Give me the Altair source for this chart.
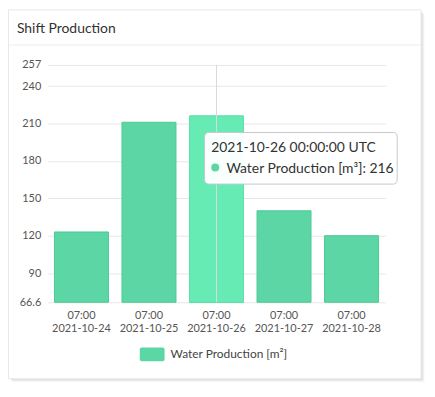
import altair as alt
import pandas as pd

# ---- data ----
dates = ["2021-10-24", "2021-10-25", "2021-10-26", "2021-10-27", "2021-10-28"]
values = [123, 211, 216, 140, 120]
hour_label = "07:00"
series_name = "Water Production [m²]"
tooltip_series = "Water Production [m³]"
hover_date = "2021-10-26"
hover_stamp = "2021-10-26 00:00:00 UTC"
y_ticks = [66.6, 90, 120, 150, 180, 210, 240, 257]
y_domain = [66.6, 257]
title_text = "Shift Production"

df = pd.DataFrame({"date": dates, "value": values, "series": [series_name] * len(dates),
                   "hour": [hour_label] * len(dates)})

W, H = 340, 239
FONT = "Lato"
BAR = "#5cd6a5"
BAR_HI = "#66ebb5"
one = alt.Data(values=[{}])

x = alt.X(
    "date:O", title=None, sort=None,
    scale=alt.Scale(paddingInner=0.2, paddingOuter=0.1),
    axis=alt.Axis(labels=False, ticks=False, domain=False, grid=False),
)
y = alt.Y(
    "value:Q", title=None,
    scale=alt.Scale(domain=y_domain, nice=False, zero=False),
    axis=alt.Axis(values=y_ticks, format=".1~f", ticks=False, domain=False, gridColor="#e6e6e6",
                  labelFont=FONT, labelFontSize=11, labelColor="#555", labelPadding=7),
)
y_base = alt.datum(y_domain[0])

# card frame (border + soft shadow), title and separator
card = alt.Chart(one).mark_rect(fillOpacity=0, stroke="#e8e8e8", strokeWidth=1).encode(
    x=alt.value(-39.5), x2=alt.value(376), y=alt.value(-55.5), y2=alt.value(316))
shadows = []
for i, op in enumerate([0.28, 0.16, 0.07]):
    shadows.append(alt.Chart(one).mark_rule(color="#888", opacity=op).encode(
        x=alt.value(377 + i), y=alt.value(-53 + i), y2=alt.value(317 + i)))
    shadows.append(alt.Chart(one).mark_rule(color="#888", opacity=op).encode(
        y=alt.value(317 + i), x=alt.value(-37 + i), x2=alt.value(377 + i)))
sep = alt.Chart(one).mark_rule(color="#ececec").encode(
    x=alt.value(-39.5), x2=alt.value(376), y=alt.value(-20))
title = alt.Chart(one).mark_text(text=title_text, font=FONT, fontSize=14, color="#333",
                                 align="left", baseline="alphabetic").encode(
    x=alt.value(-31), y=alt.value(-32.3))

bars = alt.Chart(df).mark_bar(stroke="#50c998", strokeWidth=1).encode(
    x=x, y=y, y2=y_base,
    color=alt.Color("series:N", scale=alt.Scale(domain=[series_name], range=[BAR]),
                    legend=alt.Legend(
                        title=None, orient="none", legendX=92.7, legendY=279, padding=0,
                        symbolType="M-0.84,-0.56 L0.84,-0.56 A0.16,0.16 0 0 1 1,-0.4 L1,0.4 A0.16,0.16 0 0 1 0.84,0.56 L-0.84,0.56 A0.16,0.16 0 0 1 -1,0.4 L-1,-0.4 A0.16,0.16 0 0 1 -0.84,-0.56 Z",
                        symbolSize=625, symbolStrokeWidth=0, symbolOpacity=1,
                        symbolFillColor=BAR,
                        labelFont=FONT, labelFontSize=12, labelColor="#444", labelOffset=6)),
)
hi = alt.Chart(df).transform_filter(alt.datum.date == hover_date).mark_bar(
    color=BAR_HI, stroke="#5ee0ab", strokeWidth=1).encode(x=x, y=y, y2=y_base)
cross = alt.Chart(df).transform_filter(alt.datum.date == hover_date).mark_rule(
    color="#d9d9d9", strokeWidth=1).encode(x=x, y=alt.value(0), y2=alt.value(H))

# two-line x labels
lab1 = alt.Chart(df).mark_text(font=FONT, fontSize=11, color="#555", baseline="alphabetic").encode(
    x=x, text="hour:N", y=alt.value(H + 17.3))
lab2 = alt.Chart(df).mark_text(font=FONT, fontSize=11, color="#555", baseline="alphabetic").encode(
    x=x, text="date:N", y=alt.value(H + 30.3))

tip_box = alt.Chart(one).mark_rect(fill="white", fillOpacity=0.96, stroke="#c4c9d0",
                                   strokeWidth=1, cornerRadius=4).encode(
    x=alt.value(158), x2=alt.value(352), y=alt.value(68), y2=alt.value(120))
tip1 = alt.Chart(one).mark_text(text=hover_stamp, font=FONT, fontSize=14, color="#333",
                                align="left", baseline="alphabetic").encode(
    x=alt.value(164.7), y=alt.value(87.7))
tip_dot = alt.Chart(df).transform_filter(alt.datum.date == hover_date).mark_point(
    filled=True, shape="circle", size=64, color=BAR, opacity=1).encode(
    x=alt.value(168.7), y=alt.value(103.3))
tip2 = alt.Chart(df).transform_filter(alt.datum.date == hover_date).transform_calculate(
    label=f"'{tooltip_series}: ' + datum.value").mark_text(
    font=FONT, fontSize=14, color="#333", align="left", baseline="alphabetic").encode(
    text="label:N", x=alt.value(180), y=alt.value(109))

chart = alt.layer(card, *shadows, sep, title, bars, hi, cross, lab1, lab2,
                  tip_box, tip1, tip_dot, tip2).properties(
    width=W, height=H,
    autosize=alt.AutoSizeParams(type="none"),
    padding={"left": 40, "top": 56, "right": 42, "bottom": 84},
    background="white",
).configure_view(strokeWidth=0)

chart.save("out.html", embed_options={"renderer": "svg", "actions": False})
